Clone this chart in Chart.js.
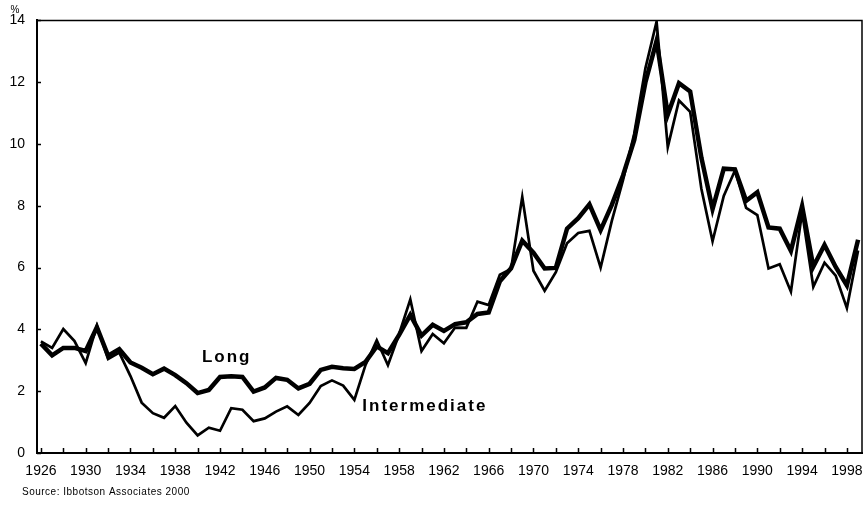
<!DOCTYPE html>
<html>
<head>
<meta charset="utf-8">
<script src="https://cdn.jsdelivr.net/npm/chart.js@4.4.0/dist/chart.umd.min.js"></script>
<style>
  html, body { margin: 0; padding: 0; background: #fff; }
  #wrap { position: relative; width: 864px; height: 510px; }
</style>
</head>
<body>
<div id="wrap"><canvas id="yieldChart" width="864" height="510"></canvas></div>
<script>
// years on the x axis
const years = [];
for (let y = 1926; y <= 1999; y++) years.push(y);

// long-term government bond yields (%)
const longYields = [
  3.54, 3.16, 3.40, 3.40, 3.30, 4.07, 3.15, 3.36, 2.93, 2.76,
  2.55, 2.73, 2.52, 2.26, 1.94, 2.04, 2.46, 2.48, 2.46, 1.99,
  2.12, 2.43, 2.37, 2.09, 2.24, 2.69, 2.79, 2.74, 2.72, 2.95,
  3.45, 3.23, 3.82, 4.47, 3.80, 4.15, 3.95, 4.17, 4.23, 4.50,
  4.55, 5.56, 5.98, 6.87, 6.48, 5.97, 5.99, 7.26, 7.60, 8.05,
  7.21, 8.03, 8.98, 10.12, 11.99, 13.34, 10.95, 11.97, 11.70, 9.56,
  7.89, 9.20, 9.18, 8.16, 8.44, 7.30, 7.26, 6.54, 7.99, 6.03,
  6.73, 6.02, 5.42, 6.90
];

// intermediate-term government bond yields (%)
const intermediateYields = [
  3.61, 3.40, 4.01, 3.62, 2.91, 4.12, 3.04, 3.25, 2.49, 1.63,
  1.29, 1.14, 1.52, 0.98, 0.57, 0.82, 0.72, 1.45, 1.40, 1.03,
  1.12, 1.34, 1.51, 1.23, 1.62, 2.17, 2.35, 2.18, 1.72, 2.85,
  3.65, 2.84, 3.85, 4.97, 3.30, 3.85, 3.55, 4.06, 4.05, 4.90,
  4.79, 5.77, 5.96, 8.29, 5.90, 5.25, 5.85, 6.79, 7.12, 7.19,
  6.00, 7.51, 8.83, 10.33, 12.45, 13.96, 9.90, 11.41, 11.04, 8.55,
  6.85, 8.32, 9.14, 7.93, 7.70, 5.97, 6.11, 5.22, 7.80, 5.38,
  6.16, 5.74, 4.69, 6.55
];

// tick marks every 2 years, labels every 4
const xTickYears = [];
for (let y = 1926; y <= 1998; y += 2) xTickYears.push(y);
const xLabelYears = [1926, 1930, 1934, 1938, 1942, 1946, 1950, 1954, 1958, 1962,
  1966, 1970, 1974, 1978, 1982, 1986, 1990, 1994, 1998];
const yTicks = [0, 2, 4, 6, 8, 10, 12, 14];

// series labels placed in data space
const seriesNotes = [
  { text: 'Long', x: 1942.6, y: 3.1 },
  { text: 'Intermediate', x: 1960.3, y: 1.5 }
];

const FONT = '"Liberation Sans", Arial, sans-serif';

// frame, inward tick marks, annotations and source line
const decorPlugin = {
  id: 'decor',
  afterDraw(chart) {
    const ctx = chart.ctx;
    const a = chart.chartArea;
    const xs = chart.scales.x, ys = chart.scales.y;
    ctx.save();
    ctx.strokeStyle = '#000';

    // top and right edges of the box
    ctx.lineWidth = 1.5;
    ctx.beginPath();
    ctx.moveTo(a.left, a.top); ctx.lineTo(a.right, a.top); ctx.lineTo(a.right, a.bottom);
    ctx.stroke();

    // inward ticks
    ctx.beginPath();
    xTickYears.forEach(v => {
      const px = Math.round(xs.getPixelForValue(v)) + 0.5;
      ctx.moveTo(px, a.bottom); ctx.lineTo(px, a.bottom - 5);
    });
    yTicks.forEach(v => {
      const py = Math.round(ys.getPixelForValue(v)) + 0.5;
      ctx.moveTo(a.left, py); ctx.lineTo(a.left + 4, py);
    });
    ctx.stroke();

    // "%" unit above the axis
    ctx.fillStyle = '#000';
    ctx.font = '10px ' + FONT;
    ctx.textAlign = 'center';
    ctx.textBaseline = 'bottom';
    ctx.fillText('%', 15, a.top - 5);

    // series labels
    ctx.font = 'bold 17px ' + FONT;
    ctx.textBaseline = 'middle';
    ctx.letterSpacing = '2px';
    seriesNotes.forEach(n => {
      ctx.fillText(n.text, xs.getPixelForValue(n.x), ys.getPixelForValue(n.y));
    });
    ctx.letterSpacing = '0px';

    // source
    ctx.font = '10px ' + FONT;
    ctx.textAlign = 'left';
    ctx.letterSpacing = '0.5px';
    ctx.fillText('Source: Ibbotson Associates 2000', 22, 492);
    ctx.restore();
  }
};

new Chart(document.getElementById('yieldChart'), {
  type: 'line',
  data: {
    datasets: [
      {
        label: 'Intermediate',
        data: years.map((y, i) => ({ x: y, y: intermediateYields[i] })),
        borderColor: '#000',
        borderWidth: 2.7,
        pointRadius: 0,
        tension: 0
      },
      {
        label: 'Long',
        data: years.map((y, i) => ({ x: y, y: longYields[i] })),
        borderColor: '#000',
        borderWidth: 4.5,
        pointRadius: 0,
        tension: 0
      }
    ]
  },
  options: {
    responsive: false,
    animation: false,
    layout: { padding: { top: 20, right: 2, left: 0, bottom: 0 } },
    plugins: {
      legend: { display: false },
      tooltip: { enabled: false }
    },
    scales: {
      x: {
        type: 'linear',
        min: 1925.65,
        max: 1999.35,
        afterBuildTicks: s => { s.ticks = xTickYears.map(v => ({ value: v })); },
        afterFit: s => { s.height = 57; s.paddingLeft = 0; s.paddingRight = 0; },
        grid: { display: false, drawTicks: false },
        border: { color: '#000', width: 2 },
        ticks: {
          autoSkip: false,
          maxRotation: 0,
          padding: 10,
          color: '#000',
          font: { family: FONT, size: 14 },
          callback: v => xLabelYears.includes(v) ? String(v) : ''
        }
      },
      y: {
        min: 0,
        max: 14,
        afterBuildTicks: s => { s.ticks = yTicks.map(v => ({ value: v })); },
        afterFit: s => { s.width = 37; },
        grid: { display: false, drawTicks: false },
        border: { color: '#000', width: 2 },
        ticks: {
          padding: 12,
          color: '#000',
          font: { family: FONT, size: 14 }
        }
      }
    }
  },
  plugins: [decorPlugin]
});
</script>
</body>
</html>
